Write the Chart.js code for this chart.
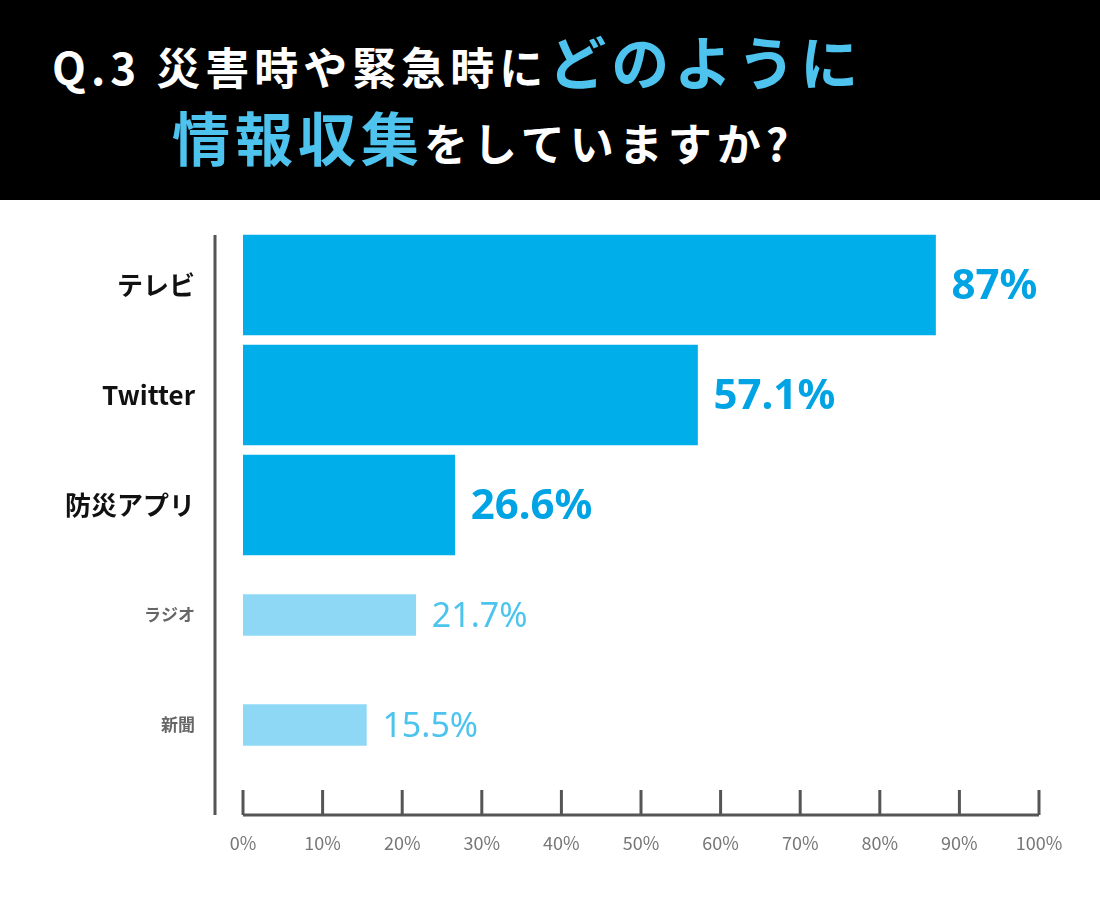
<!DOCTYPE html>
<html><head><meta charset="utf-8">
<script src="https://cdn.jsdelivr.net/npm/chart.js@4/dist/chart.umd.min.js"></script>
<style>
body{margin:0;width:1100px;height:900px;background:#fff;font-family:"Noto Sans CJK JP","Noto Sans",sans-serif;overflow:hidden}
#hd{position:absolute;left:0;top:0;width:1100px;height:200px;background:#000;color:#fff;font-weight:bold}
.l1{position:absolute;left:52px;top:18px;font-size:44px;letter-spacing:5px;white-space:nowrap}
.l2{position:absolute;left:172px;top:94px;font-size:44px;letter-spacing:5px;white-space:nowrap}
.b{color:#4DC3EE;font-size:58px}
#wrap{position:absolute;left:0;top:200px;width:1100px;height:700px}
</style></head><body>
<div id="hd"><div class="l1">Q.3 災害時や緊急時に<span class="b">どのように</span></div>
<div class="l2"><span class="b">情報収集</span>をしていますか?</div></div>
<div id="wrap"><canvas id="c" width="1100" height="700"></canvas></div>
<script>
const categories=["テレビ","Twitter","防災アプリ","ラジオ","新聞"];
const mainValues=[87,57.1,26.6,null,null];
const minorValues=[null,null,null,21.7,15.5];
const tickLabels=["0%","10%","20%","30%","40%","50%","60%","70%","80%","90%","100%"];
const dark="#00AEEA",light="#8ED8F5";
const deco={id:"deco",afterDatasetsDraw(ch){
 const c=ch.ctx,x=ch.scales.x,y=ch.scales.y;
 c.save();
 c.strokeStyle="#555";c.lineWidth=3;
 c.beginPath();c.moveTo(215,35);c.lineTo(215,615);c.stroke();
 c.beginPath();c.moveTo(x.getPixelForValue(0),615);c.lineTo(x.getPixelForValue(100),615);c.stroke();
 c.textAlign="center";c.textBaseline="middle";c.fillStyle="#777";c.font="18px 'Noto Sans CJK JP'";
 tickLabels.forEach((t,i)=>{const px=x.getPixelForValue(i*10);
  c.beginPath();c.moveTo(px,590);c.lineTo(px,615);c.stroke();
  c.fillText(t,px,643);});
 categories.forEach((lab,i)=>{const py=y.getPixelForValue(i);const main=mainValues[i]!=null;
  const v=main?mainValues[i]:minorValues[i];
  c.textAlign="right";c.fillStyle=main?"#111":"#666";
  c.font=main?"bold 26px 'Noto Sans CJK JP'":"bold 17px 'Noto Sans CJK JP'";
  c.fillText(lab,195,py);
  c.textAlign="left";c.fillStyle=main?"#00A3E3":"#4CC4EE";
  c.font=main?"bold 42px 'Noto Sans'":"34px 'Noto Sans'";
  c.fillText(v+"%",x.getPixelForValue(v)+16,py+2);});
 c.restore();}};
new Chart(document.getElementById("c"),{type:"bar",
 data:{labels:categories,datasets:[
  {data:mainValues,backgroundColor:dark,barThickness:100,skipNull:true},
  {data:minorValues,backgroundColor:light,barThickness:41,skipNull:true}]},
 options:{indexAxis:"y",responsive:false,animation:false,devicePixelRatio:1,
  layout:{padding:{left:243,right:61,top:30,bottom:120}},
  plugins:{legend:{display:false},tooltip:{enabled:false}},
  datasets:{bar:{grouped:false}},
  scales:{x:{display:false,min:0,max:100},y:{display:false}}},
 plugins:[deco]});
</script>
</body></html>
